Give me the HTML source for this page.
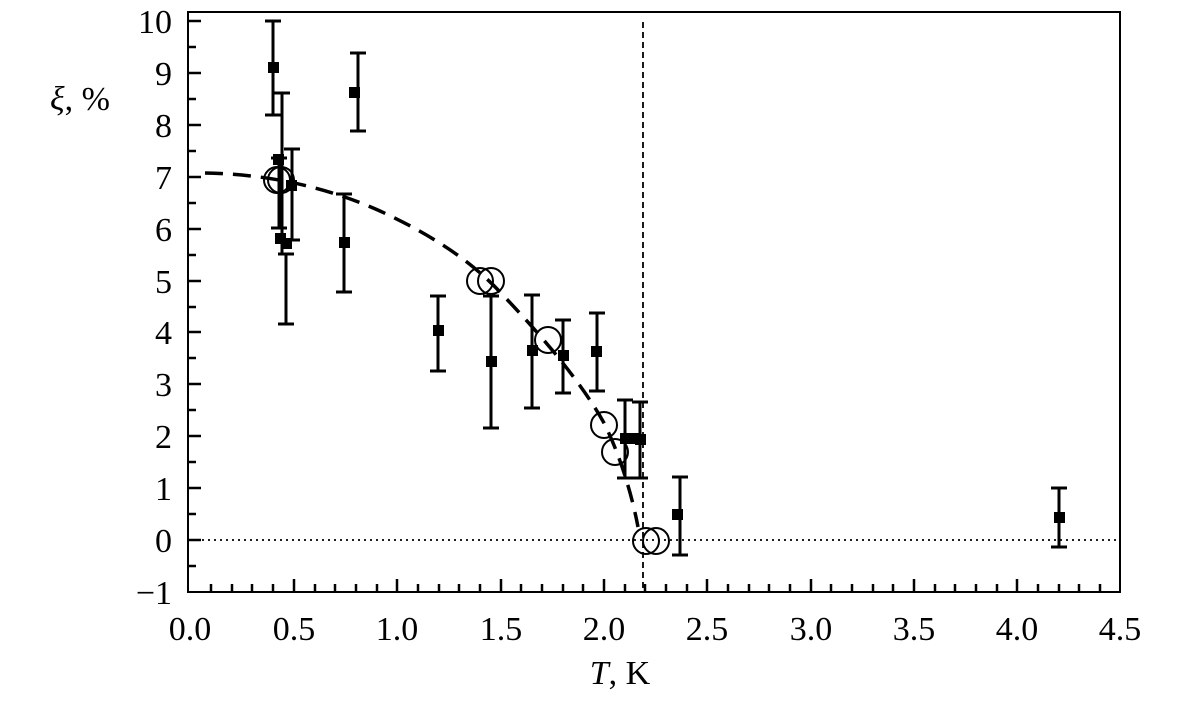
<!DOCTYPE html><html><head><style>body{margin:0;background:#fff}</style></head><body>
<svg width="1200" height="700" xmlns="http://www.w3.org/2000/svg" font-family="Liberation Serif, serif">
<rect x="188" y="12" width="932" height="580" fill="none" stroke="#000" stroke-width="2"/>
<g stroke="#000" stroke-width="2.5">
<path d="M188 21h13M188 73h13M188 125h13M188 177h13M188 229h13M188 281h13M188 332h13M188 384h13M188 436h13M188 488h13M188 540h13"/>
<path d="M188 47h8M188 99h8M188 151h8M188 203h8M188 255h8M188 307h8M188 358h8M188 410h8M188 462h8M188 514h8M188 566h8"/>
<path d="M294 592v-13M397 592v-13M501 592v-13M604 592v-13M707 592v-13M811 592v-13M914 592v-13M1017 592v-13"/>
<path d="M211 592v-8M232 592v-8M252 592v-8M273 592v-8M315 592v-8M335 592v-8M356 592v-8M377 592v-8M418 592v-8M439 592v-8M459 592v-8M480 592v-8M521 592v-8M542 592v-8M563 592v-8M583 592v-8M625 592v-8M645 592v-8M666 592v-8M687 592v-8M728 592v-8M749 592v-8M769 592v-8M790 592v-8M831 592v-8M852 592v-8M873 592v-8M893 592v-8M935 592v-8M955 592v-8M976 592v-8M997 592v-8M1038 592v-8M1059 592v-8M1079 592v-8M1100 592v-8"/>
</g>
<g font-size="34" text-anchor="end">
<text x="172" y="33">10</text><text x="172" y="85">9</text><text x="172" y="137">8</text><text x="172" y="189">7</text><text x="172" y="241">6</text><text x="172" y="293">5</text><text x="172" y="344">4</text><text x="172" y="396">3</text><text x="172" y="448">2</text><text x="172" y="500">1</text><text x="172" y="552">0</text><text x="172" y="604">−1</text>
</g>
<g font-size="34" text-anchor="middle">
<text x="190" y="640">0.0</text><text x="294" y="640">0.5</text><text x="397" y="640">1.0</text><text x="501" y="640">1.5</text><text x="604" y="640">2.0</text><text x="707" y="640">2.5</text><text x="811" y="640">3.0</text><text x="914" y="640">3.5</text><text x="1017" y="640">4.0</text><text x="1120" y="640">4.5</text>
<text x="620" y="684"><tspan font-style="italic">T</tspan>, K</text>
</g>
<text x="50" y="110" font-size="34"><tspan font-style="italic">ξ</tspan>, %</text>
<line x1="643" y1="22" x2="643" y2="592" stroke="#000" stroke-width="1.8" stroke-dasharray="6,4"/>
<line x1="190" y1="540" x2="1120" y2="540" stroke="#000" stroke-width="1.8" stroke-dasharray="2,4"/>
<path d="M205 173 C260 174 320 184 380 211 C430 234 470 260 500 292 C540 334 580 380 604 423 C620 455 632 495 638 527" fill="none" stroke="#000" stroke-width="3.5" stroke-dasharray="18,10"/>
<g stroke="#000" stroke-width="3" fill="none">
<path d="M273 21v94M265 21h16M265 115h16"/>
<path d="M282 93v160M274 93h16"/>
<path d="M279 158v70M271 158h16M271 228h16"/>
<path d="M286 254v70M278 254h16M278 324h16"/>
<path d="M292 149v91M284 149h16M284 240h16"/>
<path d="M358 53v78M350 53h16M350 131h16"/>
<path d="M344 194v98M336 194h16M336 292h16"/>
<path d="M438 296v75M430 296h16M430 371h16"/>
<path d="M491 296v132M483 296h16M483 428h16"/>
<path d="M532 295v113M524 295h16M524 408h16"/>
<path d="M563 320v73M555 320h16M555 393h16"/>
<path d="M597 313v78M589 313h16M589 391h16"/>
<path d="M625 400v78M617 400h16M617 478h16"/>
<path d="M640 402v76M632 402h16M632 478h16"/>
<path d="M680 477v78M672 477h16M672 555h16"/>
<path d="M1059 488v59M1051 488h16M1051 547h16"/>
</g>
<g fill="#000">
<rect x="268" y="62" width="11" height="11"/>
<rect x="273" y="154" width="11" height="11"/>
<rect x="275" y="233" width="11" height="11"/>
<rect x="281" y="238" width="11" height="11"/>
<rect x="286" y="180" width="11" height="11"/>
<rect x="349" y="87" width="11" height="11"/>
<rect x="339" y="237" width="11" height="11"/>
<rect x="433" y="325" width="11" height="11"/>
<rect x="486" y="356" width="11" height="11"/>
<rect x="527" y="345" width="11" height="11"/>
<rect x="558" y="350" width="11" height="11"/>
<rect x="591" y="346" width="11" height="11"/>
<rect x="620" y="433" width="11" height="11"/>
<rect x="628" y="433" width="11" height="11"/>
<rect x="635" y="434" width="11" height="11"/>
<rect x="672" y="509" width="11" height="11"/>
<rect x="1054" y="512" width="11" height="11"/>
</g>
<g fill="none" stroke="#000" stroke-width="2">
<circle cx="277" cy="180" r="13"/><circle cx="281" cy="180" r="13"/>
<circle cx="480" cy="281" r="13"/><circle cx="491" cy="281" r="13"/>
<circle cx="548" cy="340" r="13"/>
<circle cx="604" cy="425" r="13"/><circle cx="615" cy="452" r="13"/>
<circle cx="646" cy="541" r="13"/><circle cx="656" cy="541" r="13"/>
</g>
</svg>
</body></html>
